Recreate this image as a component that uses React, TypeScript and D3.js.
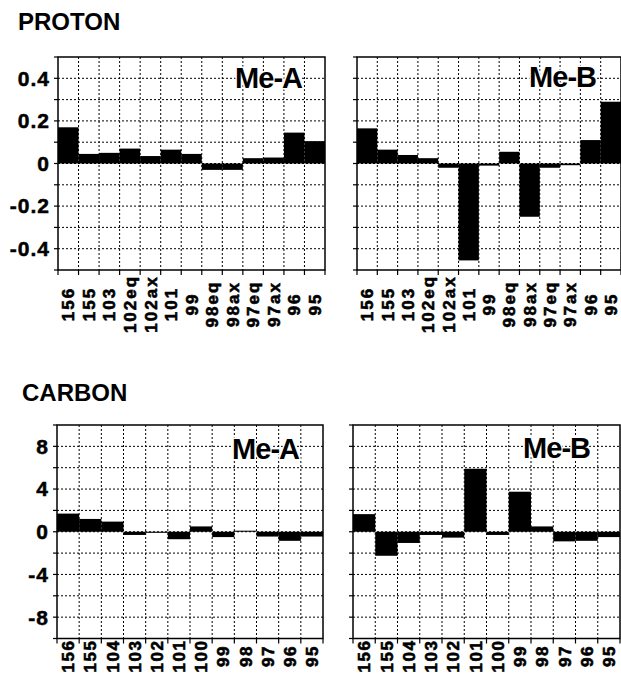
import { useEffect, useRef } from "react";
import * as d3 from "d3";

const protonCats = ["156", "155", "103", "102eq", "102ax", "101", "99", "98eq", "98ax", "97eq", "97ax", "96", "95"];
const protonMeA = [0.17, 0.045, 0.05, 0.07, 0.035, 0.065, 0.045, -0.03, -0.03, 0.025, 0.028, 0.145, 0.105];
const protonMeB = [0.165, 0.065, 0.04, 0.025, -0.02, -0.455, -0.01, 0.055, -0.25, -0.02, -0.008, 0.11, 0.29];
const protonTicks = [0.4, 0.2, 0, -0.2, -0.4];

const carbonCats = ["156", "155", "104", "103", "102", "101", "100", "99", "98", "97", "96", "95"];
const carbonMeA = [1.7, 1.2, 0.95, -0.3, -0.1, -0.7, 0.5, -0.5, 0.1, -0.45, -0.85, -0.45];
const carbonMeB = [1.65, -2.25, -1.05, -0.3, -0.55, 5.9, -0.3, 3.75, 0.5, -0.9, -0.85, -0.5];
const carbonTicks = [8, 4, 0, -4, -8];

const FONT = "'Liberation Sans', Arial, Helvetica, sans-serif";

const App = () => {
  const chartRef = useRef(null);

  useEffect(() => {
    if (!chartRef.current) return;
    const svg = d3.select(chartRef.current);
    svg.selectAll("*").remove();

    const width = 621;
    const height = 674;
    svg.attr("viewBox", [0, 0, width, height]).attr("width", width).attr("height", height);

    const panel = (opts: any) => {
      const { x0, x1, y0, y1, domain, cats, values, ticks, grid, showLabels, name, labelY, labelSpacing, nameX, nameY } = opts;
      const x = d3.scaleBand().domain(cats).range([x0, x1]).padding(0);
      const y = d3.scaleLinear().domain(domain).range([y1, y0]);
      const g = svg.append("g");

      // dotted grid
      g.selectAll(".hg")
        .data(grid)
        .join("line")
        .attr("x1", x0)
        .attr("x2", x1)
        .attr("y1", (d: any) => y(d))
        .attr("y2", (d: any) => y(d))
        .attr("stroke", "#000")
        .attr("stroke-width", 1)
        .attr("stroke-dasharray", "2,2");
      g.selectAll(".vg")
        .data(cats.slice(1))
        .join("line")
        .attr("x1", (d: any) => x(d))
        .attr("x2", (d: any) => x(d))
        .attr("y1", y0)
        .attr("y2", y1)
        .attr("stroke", "#000")
        .attr("stroke-width", 1)
        .attr("stroke-dasharray", "2,2");

      // bars
      g.selectAll(".bar")
        .data(values)
        .join("rect")
        .attr("x", (_: any, i: number) => x(cats[i]) as number)
        .attr("width", x.bandwidth())
        .attr("y", (d: any) => y(Math.max(0, d)))
        .attr("height", (d: any) => Math.abs(y(d) - y(0)))
        .attr("fill", "#000");

      // frame
      g.append("rect")
        .attr("x", x0)
        .attr("y", y0)
        .attr("width", x1 - x0)
        .attr("height", y1 - y0)
        .attr("fill", "none")
        .attr("stroke", "#000")
        .attr("stroke-width", 1.5);

      // left ticks
      const yTicks = [domain[0], ...grid, domain[1]];
      g.selectAll(".lt")
        .data(yTicks)
        .join("line")
        .attr("x1", x0 - 4)
        .attr("x2", x0)
        .attr("y1", (d: any) => y(d))
        .attr("y2", (d: any) => y(d))
        .attr("stroke", "#000")
        .attr("stroke-width", 1.2);

      // bottom ticks
      const xTicks = [...cats.map((c: string) => x(c) as number), x1];
      g.selectAll(".bt")
        .data(xTicks)
        .join("line")
        .attr("x1", (d: any) => d)
        .attr("x2", (d: any) => d)
        .attr("y1", y1)
        .attr("y2", y1 + 5)
        .attr("stroke", "#000")
        .attr("stroke-width", 1.2);

      if (showLabels) {
        g.selectAll(".yl")
          .data(ticks)
          .join("text")
          .attr("x", x0 - 8)
          .attr("y", (d: any) => y(d))
          .attr("dy", "0.35em")
          .attr("text-anchor", "end")
          .attr("font-family", FONT)
          .attr("font-weight", "bold")
          .attr("font-size", 21)
          .attr("letter-spacing", 1)
          .attr("stroke", "#000")
          .attr("stroke-width", 0.5)
          .text((d: any) => String(d));
      }

      // category labels
      g.selectAll(".xl")
        .data(cats)
        .join("text")
        .attr("transform", (d: any) => `translate(${(x(d) as number) + x.bandwidth() / 2},${labelY}) rotate(-90)`)
        .attr("dy", "0.36em")
        .attr("text-anchor", "middle")
        .attr("font-family", FONT)
        .attr("font-weight", "bold")
        .attr("font-size", 17)
        .attr("letter-spacing", labelSpacing)
        .attr("stroke", "#000")
        .attr("stroke-width", 0.6)
        .text((d: any) => d);

      // panel name
      g.append("text")
        .attr("x", nameX)
        .attr("y", nameY)
        .attr("text-anchor", "end")
        .attr("font-family", FONT)
        .attr("font-weight", "bold")
        .attr("font-size", 29)
        .attr("letter-spacing", -1)
        .attr("stroke", "#fff")
        .attr("stroke-width", 3)
        .attr("paint-order", "stroke")
        .text(name);
    };

    const pGrid = d3.range(-4, 5).map((d) => d / 10);
    const cGrid = d3.range(-8, 9, 2);

    panel({ x0: 58, x1: 325, y0: 57, y1: 270, domain: [-0.5, 0.5], cats: protonCats, values: protonMeA, ticks: protonTicks, grid: pGrid, showLabels: true, name: "Me-A", labelY: 304, labelSpacing: 2, nameX: 302, nameY: 88 });
    panel({ x0: 357, x1: 621, y0: 57, y1: 270, domain: [-0.5, 0.5], cats: protonCats, values: protonMeB, ticks: protonTicks, grid: pGrid, showLabels: false, name: "Me-B", labelY: 304, labelSpacing: 2, nameX: 596, nameY: 87 });
    panel({ x0: 57, x1: 323, y0: 425, y1: 638.5, domain: [-10, 10], cats: carbonCats, values: carbonMeA, ticks: carbonTicks, grid: cGrid, showLabels: true, name: "Me-A", labelY: 656, labelSpacing: 1.5, nameX: 299, nameY: 459 });
    panel({ x0: 353, x1: 620, y0: 425, y1: 638.5, domain: [-10, 10], cats: carbonCats, values: carbonMeB, ticks: carbonTicks, grid: cGrid, showLabels: false, name: "Me-B", labelY: 656, labelSpacing: 1.5, nameX: 590, nameY: 458 });

    svg.append("text")
      .attr("x", 18)
      .attr("y", 30)
      .attr("font-family", FONT)
      .attr("font-weight", "bold")
      .attr("font-size", 24)
      .text("PROTON");
    svg.append("text")
      .attr("x", 22)
      .attr("y", 401)
      .attr("font-family", FONT)
      .attr("font-weight", "bold")
      .attr("font-size", 24)
      .text("CARBON");
  }, []);

  return (
    <svg
      ref={chartRef}
      style={{ position: "absolute", left: 0, top: 0, background: "#fff" }}
    ></svg>
  );
};

export default App;
